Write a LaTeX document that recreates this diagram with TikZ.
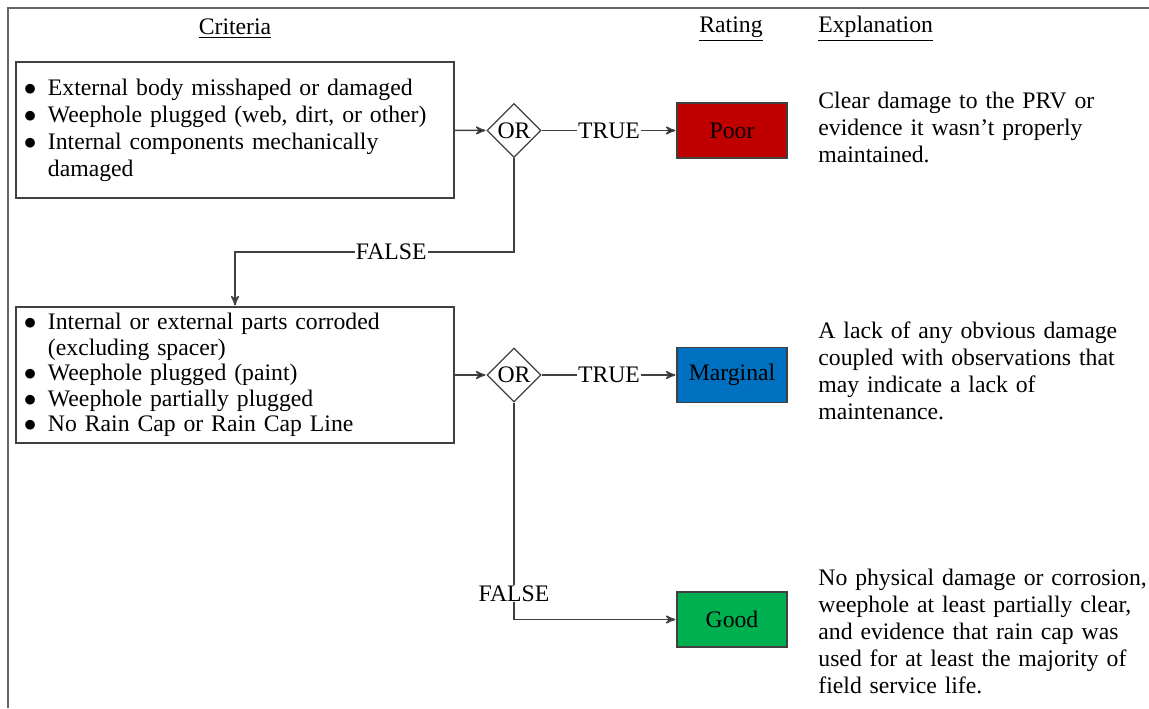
\documentclass[tikz,border=0pt]{standalone}
\usepackage{fontspec}
\setmainfont{Liberation Serif}
\usepackage{tikz}
\usetikzlibrary{arrows,shapes.geometric,positioning}

\definecolor{linegray}{HTML}{404040}
\definecolor{poorred}{HTML}{C00000}
\definecolor{margblue}{HTML}{0070C0}
\definecolor{goodgreen}{HTML}{00B050}

\newcommand{\critline}[1]{\makebox[13pt][l]{\hspace*{1pt}\scalebox{1.05}{$\bullet$}}#1}

\begin{document}
\begin{tikzpicture}[x=0.5pt,y=-0.5pt,>=stealth',font=\fontsize{11.85pt}{13.5pt}\selectfont,
			flow/.style={->,draw=linegray,line width=0.75pt,shorten >=0.5pt},
			crit box/.style={rectangle,draw=linegray,line width=0.6pt,minimum width=219pt,minimum height=68pt,
				text width=213pt,inner sep=3pt,align=left},
			or node/.style={diamond,draw=linegray,line width=0.6pt,minimum width=27pt,minimum height=27pt,inner sep=0pt},
			rating/.style={rectangle,draw=linegray,line width=0.6pt,minimum width=55pt,minimum height=27.5pt},
			lbl/.style={fill=white,inner sep=0.5pt},
			expl/.style={anchor=west,text width=172pt,align=left,inner sep=0pt}]
			
			\useasboundingbox (0,0) rectangle (1149,708);
			\draw[linegray!80,line width=0.6pt] (8,708) -- (8,8) -- (1149,8);
			
			% headings
			\node (hcrit) at (235,29) {\underline{Criteria}};
			\node (hrate) at (731,29) {\underline{Rating}};
			\node[anchor=west,inner sep=0pt] (hexpl) at (818,29) {\underline{Explanation}};
			
			% first check
			\node[crit box] (crit1) at (235,130) {%
				\critline{External body misshaped or damaged}\\
				\critline{Weephole plugged (web, dirt, or other)}\\
				\critline{Internal components mechanically}\\
				\hspace*{13pt}damaged};
			\node[or node] (or1) at (514,130.5) {OR};
			\node[rating,fill=poorred] (poor) at (732,130.5) {Poor};
			
			% second check
			\node[crit box,font=\fontsize{11.85pt}{12.75pt}\selectfont] (crit2) at (235,375) {%
				\critline{Internal or external parts corroded}\\
				\hspace*{13pt}(excluding spacer)\\
				\critline{Weephole plugged (paint)}\\
				\critline{Weephole partially plugged}\\
				\critline{No Rain Cap or Rain Cap Line}};
			\node[or node] (or2) at (514,375) {OR};
			\node[rating,fill=margblue] (marg) at (732,375) {Marginal};
			\node[rating,fill=goodgreen] (good) at (732,619.5) {Good};
			
			% explanations
			\node[expl] (xpoor) at (818,127) {Clear damage to the PRV or\\evidence it wasn’t properly\\maintained.};
			\node[expl] (xmarg) at (818,371) {A lack of any obvious damage\\coupled with observations that\\may indicate a lack of\\maintenance.};
			\node[expl] (xgood) at (818,631) {No physical damage or corrosion,\\weephole at least partially clear,\\and evidence that rain cap was\\used for at least the majority of\\field service life.};
			
			% connectors
			\coordinate (fork1) at (235,252);
			\path[flow]
			(crit1) edge (or1)
			(or1) edge node[lbl] {TRUE} (poor)
			(crit2) edge (or2)
			(or2) edge node[lbl] {TRUE} (marg);
			\draw[flow] (or1.south) |- node[lbl,pos=0.72] {FALSE} (fork1) -- (crit2.north);
			\draw[flow] (or2.south) |- node[lbl,pos=0.44] {FALSE} (good.west);
			
\end{tikzpicture}
\end{document}
